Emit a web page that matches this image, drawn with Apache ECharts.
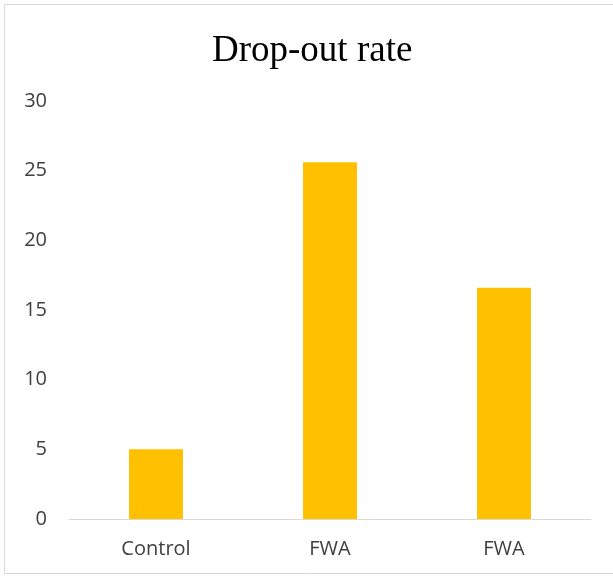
<!DOCTYPE html>
<html>
<head>
<meta charset="utf-8">
<script src="https://cdn.jsdelivr.net/npm/echarts@6/dist/echarts.min.js"></script>
<style>html,body{margin:0;padding:0;background:#fff;}#c{width:613px;height:577px;}</style>
</head>
<body>
<div id="c"></div>
<script>
const titleText = 'Drop-out rate';
const categories = ['Control', 'FWA', 'FWA'];
const values = [5, 25.6, 16.6];
const yTicks = { min: 0, max: 30, interval: 5 };

const chart = echarts.init(document.getElementById('c'));
chart.setOption({
  animation: false,
  backgroundColor: '#fff',
  title: {
    text: titleText,
    left: 207,
    top: 28,
    textStyle: { fontFamily: 'Liberation Serif', fontSize: 37, fontWeight: 'normal', color: '#000' }
  },
  graphic: [{
    type: 'rect',
    shape: { x: 4.5, y: 4.5, width: 640, height: 569 },
    style: { fill: 'none', stroke: '#d9d9d9', lineWidth: 1 },
    silent: true
  }],
  grid: { left: 69, right: 22, top: 101, bottom: 58, containLabel: false },
  xAxis: {
    type: 'category',
    data: categories,
    axisLine: { lineStyle: { color: '#d9d9d9', width: 1 } },
    axisTick: { show: false },
    axisLabel: { color: '#404040', fontFamily: 'Open Sans', fontSize: 20, margin: 20 }
  },
  yAxis: {
    type: 'value',
    min: yTicks.min, max: yTicks.max, interval: yTicks.interval,
    axisLine: { show: false },
    axisTick: { show: false },
    splitLine: { show: false },
    axisLabel: { color: '#404040', fontFamily: 'Open Sans', fontSize: 20, margin: 22 }
  },
  series: [{
    type: 'bar',
    data: values,
    barWidth: '31%',
    itemStyle: { color: '#FFC000' }
  }]
});
</script>
</body>
</html>
